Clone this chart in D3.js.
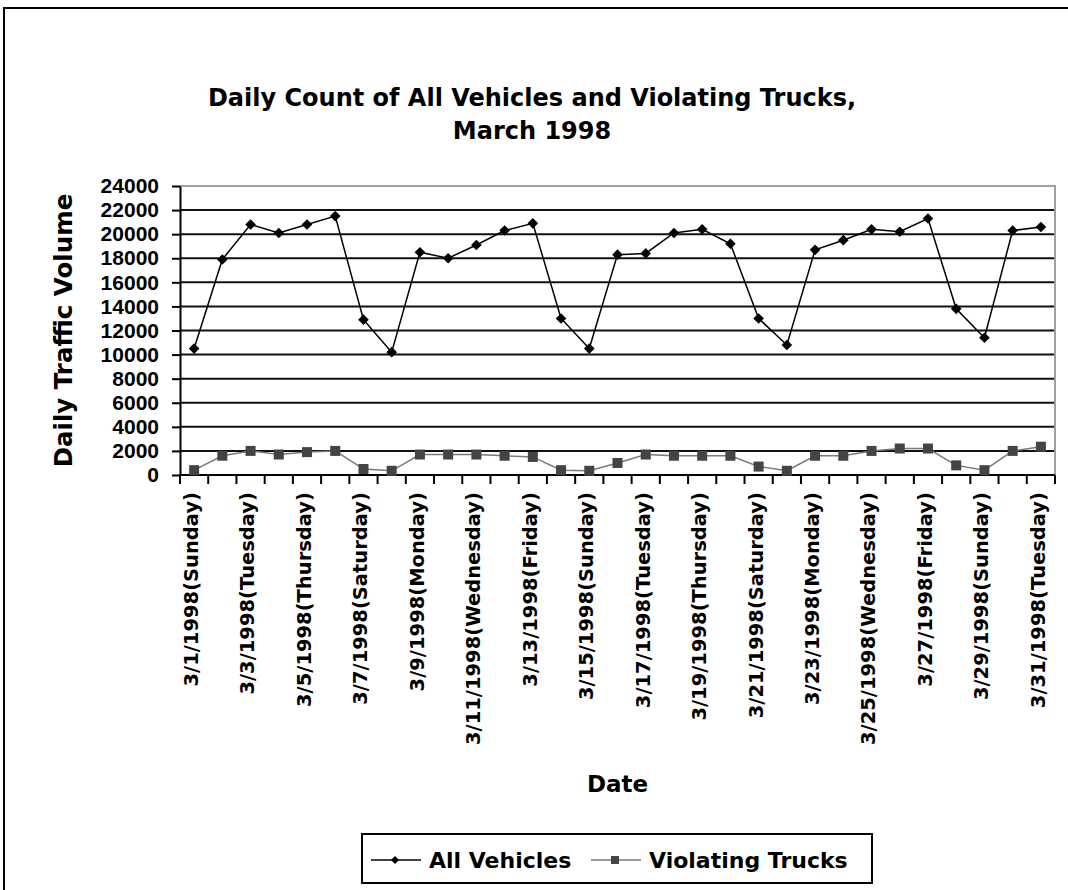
<!DOCTYPE html>
<html>
<head>
  <title>Daily Count of All Vehicles and Violating Trucks</title>
  <script src="https://cdnjs.cloudflare.com/ajax/libs/d3/7.8.5/d3.min.js"></script>
  <style>
    body { margin: 0; background: #fff; }
    svg { display: block; }
    .dv { font-family: "DejaVu Sans", sans-serif; font-weight: bold; }
    .lib { font-family: "Liberation Sans", Arial, sans-serif; font-weight: bold; }
  </style>
</head>
<body>
<div id="chart"></div>
<script>
// ---- data ----
var days = ["3/1/1998(Sunday)", "3/2/1998(Monday)", "3/3/1998(Tuesday)", "3/4/1998(Wednesday)",
    "3/5/1998(Thursday)", "3/6/1998(Friday)", "3/7/1998(Saturday)", "3/8/1998(Sunday)",
    "3/9/1998(Monday)", "3/10/1998(Tuesday)", "3/11/1998(Wednesday)", "3/12/1998(Thursday)",
    "3/13/1998(Friday)", "3/14/1998(Saturday)", "3/15/1998(Sunday)", "3/16/1998(Monday)",
    "3/17/1998(Tuesday)", "3/18/1998(Wednesday)", "3/19/1998(Thursday)", "3/20/1998(Friday)",
    "3/21/1998(Saturday)", "3/22/1998(Sunday)", "3/23/1998(Monday)", "3/24/1998(Tuesday)",
    "3/25/1998(Wednesday)", "3/26/1998(Thursday)", "3/27/1998(Friday)", "3/28/1998(Saturday)",
    "3/29/1998(Sunday)", "3/30/1998(Monday)", "3/31/1998(Tuesday)"];

var allVehicles = [10500, 17900, 20800, 20100, 20800, 21500, 12900, 10200, 18500, 18000,
    19100, 20300, 20900, 13000, 10500, 18300, 18400, 20100, 20400, 19200,
    13000, 10800, 18700, 19500, 20400, 20200, 21300, 13800, 11400, 20300, 20600];

var violatingTrucks = [400, 1600, 2000, 1700, 1900, 2000, 500, 350, 1700, 1700,
    1700, 1600, 1500, 400, 350, 1000, 1700, 1600, 1600, 1600,
    700, 350, 1600, 1600, 2000, 2200, 2200, 800, 400, 2000, 2350];

var yTicks = [0, 2000, 4000, 6000, 8000, 10000, 12000, 14000, 16000, 18000, 20000, 22000, 24000];
var seriesNames = ["All Vehicles", "Violating Trucks"];

//----------------------------------------
// SVG setup
var width = 1068, height = 890;
var plot = {left: 180, right: 1055, top: 186, bottom: 475};

var svg = d3.select('#chart').append('svg')
    .attr('width', width)
    .attr('height', height);

// chart area frame (clipped by page edge)
svg.append('rect')
    .attr('x', 4).attr('y', 8)
    .attr('width', 1100).attr('height', 950)
    .attr('fill', 'none')
    .attr('stroke', '#000')
    .attr('stroke-width', 2);

//----------------------------------------
// Scales
var x = d3.scaleBand()
    .domain(days)
    .range([plot.left, plot.right])
    .padding(0);

var y = d3.scaleLinear()
    .domain([0, 24000])
    .range([plot.bottom, plot.top]);

//----------------------------------------
// Gridlines
svg.append('g')
    .selectAll('line')
    .data(yTicks.filter(function(d) { return d > 0 && d < 24000; }))
    .enter().append('line')
    .attr('x1', plot.left).attr('x2', plot.right)
    .attr('y1', function(d) { return y(d); })
    .attr('y2', function(d) { return y(d); })
    .attr('stroke', '#111')
    .attr('stroke-width', 2);

// plot border top / right (grey)
svg.append('path')
    .attr('d', 'M' + plot.left + ',' + y(24000) + 'H' + plot.right + 'V' + plot.bottom)
    .attr('fill', 'none')
    .attr('stroke', '#a0a0a0')
    .attr('stroke-width', 2);

//----------------------------------------
// Y axis
var yAxis = d3.axisLeft(y)
    .tickValues(yTicks)
    .tickFormat(d3.format('d'))
    .tickSize(8)
    .tickPadding(13)
    .tickSizeOuter(0);

var gy = svg.append('g')
    .attr('transform', 'translate(' + plot.left + ',0)')
    .call(yAxis);
gy.select('.domain').attr('stroke', '#000').attr('stroke-width', 2);
gy.selectAll('.tick line').attr('stroke', '#000').attr('stroke-width', 2);
gy.selectAll('.tick text')
    .attr('class', 'lib')
    .style('font-size', '21px')
    .attr('fill', '#000');

//----------------------------------------
// X axis: labels on every other day, ticks at category boundaries
var xAxis = d3.axisBottom(x)
    .tickValues(days.filter(function(d, i) { return i % 2 === 0; }))
    .tickSize(0)
    .tickSizeOuter(0);

var gx = svg.append('g')
    .attr('transform', 'translate(0,' + plot.bottom + ')')
    .call(xAxis);
gx.select('.domain').remove();
gx.selectAll('.tick text')
    .attr('class', 'dv')
    .style('font-size', '19.5px')
    .attr('fill', '#000')
    .attr('transform', 'rotate(-90)')
    .attr('x', -17)
    .attr('y', 0)
    .attr('dy', '0.2em')
    .attr('text-anchor', 'end');

svg.append('g')
    .selectAll('line')
    .data(days.concat([null]))
    .enter().append('line')
    .attr('x1', function(d, i) { return plot.left + i * x.step(); })
    .attr('x2', function(d, i) { return plot.left + i * x.step(); })
    .attr('y1', plot.bottom)
    .attr('y2', plot.bottom + 9)
    .attr('stroke', '#000')
    .attr('stroke-width', 2);

svg.append('line')
    .attr('x1', plot.left - 1).attr('x2', plot.right)
    .attr('y1', plot.bottom).attr('y2', plot.bottom)
    .attr('stroke', '#000')
    .attr('stroke-width', 2);

//----------------------------------------
// Lines and markers
var cx = function(d, i) { return x(days[i]) + x.bandwidth() / 2; };

var line = d3.line()
    .x(cx)
    .y(function(d) { return y(d); });

svg.append('path')
    .datum(violatingTrucks)
    .attr('d', line)
    .attr('fill', 'none')
    .attr('stroke', '#7a7a7a')
    .attr('stroke-width', 1.5);

svg.append('path')
    .datum(allVehicles)
    .attr('d', line)
    .attr('fill', 'none')
    .attr('stroke', '#000')
    .attr('stroke-width', 1.5);

var diamond = d3.symbol().type(d3.symbolDiamond2).size(72);

svg.append('g')
    .selectAll('path')
    .data(allVehicles)
    .enter().append('path')
    .attr('d', diamond)
    .attr('transform', function(d, i) { return 'translate(' + cx(d, i) + ',' + y(d) + ')'; })
    .attr('fill', '#000');

svg.append('g')
    .selectAll('rect')
    .data(violatingTrucks)
    .enter().append('rect')
    .attr('x', function(d, i) { return cx(d, i) - 5; })
    .attr('y', function(d) { return y(d) - 5; })
    .attr('width', 10)
    .attr('height', 10)
    .attr('fill', '#444');

//----------------------------------------
// Titles
var title = svg.append('text')
    .attr('class', 'dv')
    .attr('text-anchor', 'middle')
    .style('font-size', '24px')
    .attr('fill', '#000');
title.append('tspan').attr('x', 532).attr('y', 106)
    .text('Daily Count of All Vehicles and Violating Trucks,');
title.append('tspan').attr('x', 532).attr('y', 139)
    .text('March 1998');

svg.append('text')
    .attr('class', 'dv')
    .attr('text-anchor', 'middle')
    .attr('transform', 'translate(72,' + (plot.top + plot.bottom) / 2 + ') rotate(-90)')
    .style('font-size', '24.5px')
    .attr('fill', '#000')
    .text('Daily Traffic Volume');

svg.append('text')
    .attr('class', 'dv')
    .attr('text-anchor', 'middle')
    .attr('x', (plot.left + plot.right) / 2)
    .attr('y', 792)
    .style('font-size', '23px')
    .attr('fill', '#000')
    .text('Date');

//----------------------------------------
// Legend
var legend = svg.append('g').attr('transform', 'translate(362,834)');
legend.append('rect')
    .attr('width', 510).attr('height', 49)
    .attr('fill', '#fff')
    .attr('stroke', '#000')
    .attr('stroke-width', 2);

var legendItems = [
    {name: seriesNames[0], x: 9, color: '#000', mark: 'diamond'},
    {name: seriesNames[1], x: 229, color: '#7a7a7a', mark: 'square'}
];

legendItems.forEach(function(it) {
    var g = legend.append('g').attr('transform', 'translate(' + it.x + ',26)');
    g.append('line')
        .attr('x1', 0).attr('x2', 50)
        .attr('stroke', it.color)
        .attr('stroke-width', 1.5);
    if (it.mark === 'diamond') {
        g.append('path')
            .attr('d', d3.symbol().type(d3.symbolDiamond2).size(40))
            .attr('transform', 'translate(24,0)')
            .attr('fill', '#000');
    } else {
        g.append('rect')
            .attr('x', 20).attr('y', -4)
            .attr('width', 8).attr('height', 8)
            .attr('fill', '#444');
    }
    g.append('text')
        .attr('class', 'dv')
        .attr('x', 58)
        .attr('y', 8)
        .style('font-size', '22px')
        .attr('fill', '#000')
        .text(it.name);
});
</script>
</body>
</html>
